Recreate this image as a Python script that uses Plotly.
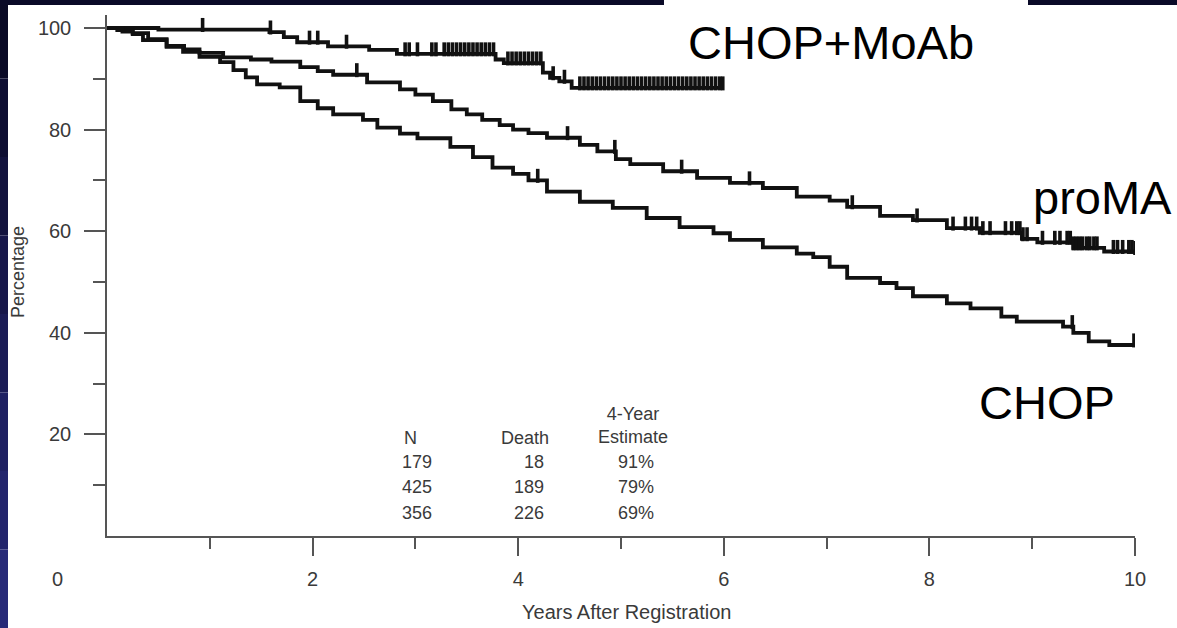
import numpy as np
import plotly.graph_objects as go

# ---------------- data ----------------
moab_t = [0, 0.5, 1.58, 1.72, 1.85, 2.15, 2.55, 2.82, 3.78, 3.86, 4.24, 4.31, 4.4, 4.52, 5.99]
moab_s = [100, 99.7, 99.2, 98.2, 97.2, 96.4, 95.7, 94.9, 93.8, 93.1, 91.2, 90.2, 89.5, 88.2, 88.2]
moab_cens = [0.93, 1.59, 1.97, 2.05, 2.33, 2.9, 2.94, 3.02, 3.16, 3.2, 3.28, 3.32, 3.36, 3.4, 3.44,
             3.48, 3.52, 3.56, 3.6, 3.64, 3.68, 3.72, 3.76, 3.9, 3.94, 3.98, 4.02, 4.06, 4.1,
             4.14, 4.18, 4.22, 4.34, 4.45, 4.6, 4.64, 4.68, 4.72, 4.76, 4.8, 4.84, 4.88, 4.92,
             4.96, 5.0, 5.04, 5.08, 5.12, 5.16, 5.2, 5.24, 5.28, 5.32, 5.36, 5.4, 5.44, 5.48,
             5.52, 5.56, 5.6, 5.64, 5.68, 5.72, 5.76, 5.8, 5.84, 5.88, 5.92, 5.96, 5.99]

proma_t = [0, 0.1, 0.25, 0.4, 0.58, 0.75, 0.9, 1.13, 1.4, 1.6, 1.88, 2.05, 2.2, 2.53, 2.85, 3.0,
           3.17, 3.35, 3.5, 3.65, 3.82, 3.95, 4.1, 4.28, 4.6, 4.77, 4.95, 5.09, 5.41, 5.74, 6.06,
           6.38, 6.71, 7.03, 7.2, 7.52, 7.84, 8.17, 8.49, 8.9, 9.05, 9.4, 9.7, 10.0]
proma_s = [100, 99.6, 99.0, 97.8, 96.5, 95.8, 95.1, 94.2, 93.8, 93.4, 92.3, 91.5, 90.8, 89.3, 87.9,
           86.9, 85.6, 84.0, 83.0, 81.9, 80.9, 80.0, 79.3, 78.4, 77.0, 75.7, 74.2, 73.2, 71.8, 70.5,
           69.5, 68.5, 66.8, 66.0, 64.8, 63.0, 62.2, 60.6, 59.7, 58.5, 57.8, 56.7, 56.0, 55.8]
proma_cens = [2.43, 4.48, 4.94, 5.59, 6.25, 7.25, 7.88, 8.23, 8.35, 8.41, 8.46, 8.52, 8.59, 8.74,
              8.8, 8.85, 8.88, 8.91, 8.95, 9.1, 9.22, 9.27, 9.34, 9.37, 9.4, 9.43, 9.46, 9.49,
              9.53, 9.56, 9.6, 9.63, 9.79, 9.83, 9.88, 9.94, 9.97, 10.0]

chop_t = [0, 0.15, 0.25, 0.35, 0.58, 0.74, 0.9, 1.1, 1.23, 1.35, 1.46, 1.68, 1.88, 2.05, 2.2,
          2.49, 2.63, 2.85, 3.02, 3.34, 3.56, 3.75, 3.95, 4.1, 4.28, 4.6, 4.92, 5.25, 5.57, 5.9,
          6.06, 6.38, 6.71, 6.87, 7.03, 7.2, 7.52, 7.68, 7.84, 8.17, 8.4, 8.7, 8.85, 9.3, 9.4,
          9.55, 9.75, 10.0]
chop_s = [100, 99.3, 98.8, 97.6, 96.3, 95.3, 94.3, 93.3, 91.7, 90.3, 88.9, 88.3, 85.6, 84.2, 83.0,
          81.9, 80.4, 79.2, 78.3, 76.6, 74.6, 72.5, 71.3, 70.0, 67.8, 65.8, 64.6, 62.6, 60.8, 59.6,
          58.3, 56.8, 55.6, 54.9, 53.0, 50.8, 49.8, 48.8, 47.2, 45.8, 44.8, 43.2, 42.2, 41.2, 40.0,
          38.3, 37.6, 37.2]
chop_cens = [4.19, 9.39, 9.99]

table_header = ["N", "Death", "4-Year<br>Estimate"]
table_n = ["179", "425", "356"]
table_death = ["18", "189", "226"]
table_est = ["91%", "79%", "69%"]

x_ticks = [2, 4, 6, 8, 10]
x_minor = [1, 3, 5, 7, 9]
y_ticks = [20, 40, 60, 80, 100]
y_minor = [10, 30, 50, 70, 90]

# ---------------- figure ----------------
fig = go.Figure()

def step_at(ts, ss, c):
    ts = np.asarray(ts); ss = np.asarray(ss)
    idx = np.searchsorted(ts, np.asarray(c), side="right") - 1
    return ss[np.clip(idx, 0, len(ss) - 1)]

for ts, ss, cens in [(moab_t, moab_s, moab_cens), (proma_t, proma_s, proma_cens),
                     (chop_t, chop_s, chop_cens)]:
    fig.add_trace(go.Scatter(x=ts, y=ss, mode="lines", line=dict(color="#111", width=3.8, shape="hv"),
                             hoverinfo="skip"))
    cy = step_at(ts, ss, cens) + 0.9
    fig.add_trace(go.Scatter(x=cens, y=cy, mode="markers",
                             marker=dict(symbol="line-ns", size=10,
                                         line=dict(color="#111", width=3.6)),
                             hoverinfo="skip"))

AX = "#555"
TF = dict(family="Arial, Liberation Sans, sans-serif", size=20, color="#3a3a3a")
fig.update_xaxes(range=[0, 10], showline=True, linecolor=AX, linewidth=1.5, showgrid=False,
                 zeroline=False, ticks="outside", tickvals=x_ticks, ticklen=18, tickwidth=1.5,
                 tickcolor=AX, tickfont=TF, ticklabelstandoff=6,
                 minor=dict(tickvals=x_minor, ticks="outside", ticklen=11, tickwidth=1.5,
                            tickcolor=AX, showgrid=False))
fig.update_yaxes(range=[0, 102.56], showline=True, linecolor=AX, linewidth=1.5, showgrid=False,
                 zeroline=False, ticks="outside", tickvals=y_ticks, ticklen=21, tickwidth=1.5,
                 tickcolor=AX, tickfont=TF, ticklabelstandoff=9,
                 minor=dict(tickvals=y_minor, ticks="outside", ticklen=12, tickwidth=1.5,
                            tickcolor=AX, showgrid=False))

L, R, T, B = 107, 42, 15, 92
W, H = 1177, 628
PW, PH = W - L - R, H - T - B

def px(x):
    return (x - L) / PW

def py(y):
    return (H - B - y) / PH

shapes = []
# dark frame strips (gradient on the left)
left_cols = ["#0a0a26", "#0e0e32", "#13133e", "#17174a", "#1b1c56", "#1f2162", "#23256c", "#272a78"]
nb = len(left_cols)
for i, c in enumerate(left_cols):
    shapes.append(dict(type="rect", xref="paper", yref="paper", x0=px(0), x1=px(8),
                       y0=py(H * (i + 1) / nb), y1=py(H * i / nb), fillcolor=c, line_width=0,
                       layer="above"))
for a, b in [(0, 664), (1028, W)]:
    shapes.append(dict(type="rect", xref="paper", yref="paper", x0=px(a), x1=px(b),
                       y0=py(5), y1=py(0), fillcolor="#0a0a28", line_width=0, layer="above"))

ann = []

def add_text(x, y, text, font, xanchor="center", yanchor="middle", **kw):
    ann.append(dict(x=px(x), y=py(y), xref="paper", yref="paper", text=text, showarrow=False,
                    xanchor=xanchor, yanchor=yanchor, font=font, **kw))

SF = dict(family="Arial, Liberation Sans, sans-serif", size=18, color="#3a3a3a")
# axis titles and origin label
add_text(626, 612, "Years After Registration",
         dict(family=TF["family"], size=20, color="#3a3a3a"))
add_text(18, 272, "Percentage", dict(family=TF["family"], size=18, color="#3a3a3a"), textangle=-90)
add_text(57, 579, "0", TF)

# table
add_text(410, 438, table_header[0], SF)
add_text(525, 438, table_header[1], SF)
add_text(633, 425, table_header[2], SF)
for i, yy in enumerate([462, 487, 513]):
    add_text(400, yy, table_n[i], SF, xanchor="left")
    add_text(546, yy, table_death[i], SF, xanchor="right")
    add_text(636, yy, table_est[i], SF)

BF = dict(family="Arial, Liberation Sans, sans-serif", size=47, color="#000")
add_text(831, 42, "CHOP+MoAb", BF)
add_text(1102, 197, "proMA", BF)
add_text(1047, 402, "CHOP", BF)

fig.update_layout(width=W, height=H, margin=dict(l=L, r=R, t=T, b=B), paper_bgcolor="white",
                  plot_bgcolor="white", showlegend=False, shapes=shapes, annotations=ann)

fig.write_html("out.html")
